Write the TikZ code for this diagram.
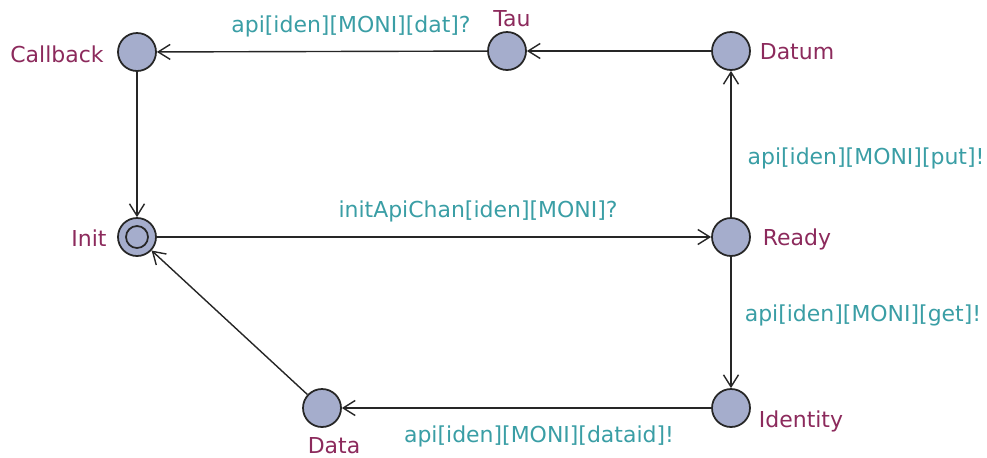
\documentclass[tikz,border=0pt]{standalone}
\usepackage{fontspec}
\setmainfont{DejaVu Sans}
\usetikzlibrary{arrows.meta}

\definecolor{locfill}{RGB}{165,173,204}
\definecolor{locname}{RGB}{140,42,92}
\definecolor{guardtext}{RGB}{58,158,165}

\begin{document}
\begin{tikzpicture}[x=0.02cm, y=-0.02cm,
    font=\fontsize{12.5}{15}\selectfont,
    loc/.style={circle, draw=black!85, fill=locfill, line width=1pt, minimum size=0.76cm, inner sep=0pt},
    loclabel/.style={text=locname, inner sep=0pt},
    guard/.style={text=guardtext, inner sep=0pt},
    trans/.style={draw=black!85, -{Straight Barb[length=2.4mm, width=3mm, line width=0.8pt]}, line width=0.8pt}]
    \useasboundingbox (0,0) rectangle (987,457);
    % Locations
    \node[loc] (callback) at (137,52) {};
    \node[loc] (tau) at (507,51) {};
    \node[loc] (datum) at (731,51) {};
    \node[loc] (init) at (137,237) {};
    \draw[black!85, line width=1pt] (init.center) circle[radius=0.22cm];
    \node[loc] (ready) at (731,237) {};
    \node[loc] (identity) at (731,408) {};
    \node[loc] (data) at (322,408) {};
    % Names
    \node[loclabel] (callbackname) at (57,54) {Callback};
    \node[loclabel] (tauname) at (512,19) {Tau};
    \node[loclabel] (datumname) at (797,52) {Datum};
    \node[loclabel] (initname) at (89,238) {Init};
    \node[loclabel] (readyname) at (797,239) {Ready};
    \node[loclabel] (identityname) at (801,421) {Identity};
    \node[loclabel] (dataname) at (334,446) {Data};
    % Transitions
    \draw[trans] (tau) -- (callback);
    \draw[trans] (datum) -- (tau);
    \draw[trans] (callback) -- (init);
    \draw[trans] (init) -- (ready);
    \draw[trans] (ready) -- (datum);
    \draw[trans] (ready) -- (identity);
    \draw[trans] (identity) -- (data);
    \draw[trans] (data) -- (init);
    % Synchronisations
    \node[guard] (syncdat) at (351,26) {api[iden][MONI][dat]?};
    \node[guard] (syncinit) at (478,211) {initApiChan[iden][MONI]?};
    \node[guard] (syncput) at (866,158) {api[iden][MONI][put]!};
    \node[guard] (syncget) at (863,315) {api[iden][MONI][get]!};
    \node[guard] (syncdataid) at (539,436) {api[iden][MONI][dataid]!};
\end{tikzpicture}
\end{document}
